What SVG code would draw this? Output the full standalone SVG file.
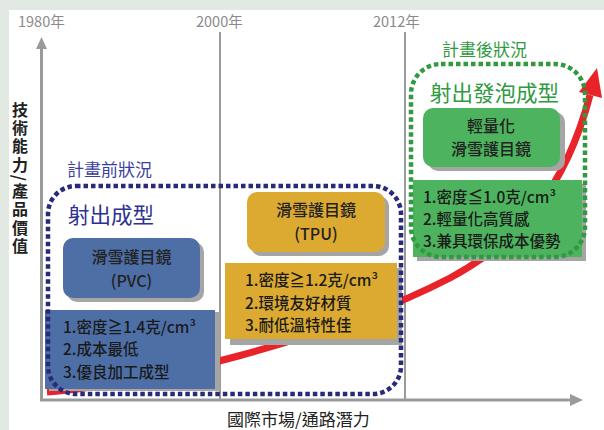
<svg xmlns="http://www.w3.org/2000/svg" width="604" height="430" viewBox="0 0 604 430">
<style>
.t{font-family:"Noto Sans CJK TC","Noto Sans",sans-serif}
.yr{font-size:14.5px;fill:#8a8a8a}
.box{font-size:16px;fill:#222;text-anchor:middle;font-weight:500}
.lst{font-size:15.5px;fill:#1a1a1a;font-weight:500}
.shadow{fill:#a5a5a5}
.axis{stroke:#9a9a9a;fill:none}
.dotB{fill:none;stroke:#2a2a7d;stroke-width:4.5;stroke-dasharray:4.5 3}
.dotG{fill:none;stroke:#2f9a3f;stroke-width:4.5;stroke-dasharray:4.5 3}
</style>
<rect width="604" height="430" fill="#e2e8e2"/>
<rect x="9" y="10" width="595" height="420" fill="#ffffff"/>
<g id="axes">
<line class="axis" x1="41.5" y1="46" x2="41.5" y2="400" stroke-width="3"/>
<polygon points="41.5,37 36,49 47,49" fill="#9a9a9a"/>
<line class="axis" x1="40" y1="400" x2="572" y2="400" stroke-width="3"/>
<polygon points="583,400 570,394 570,406" fill="#9a9a9a"/>
<line class="axis" x1="220" y1="32" x2="220" y2="400" stroke-width="2"/>
<line class="axis" x1="405" y1="32" x2="405" y2="400" stroke-width="2"/>
<text class="t yr" x="18" y="27">1980年</text>
<text class="t yr" x="196" y="27">2000年</text>
<text class="t yr" x="373" y="27">2012年</text>
<text id="y-label" class="t" x="20" y="102" font-size="16" font-weight="bold" fill="#222" letter-spacing="2.2" style="writing-mode:vertical-rl">技術能力/產品價值</text>
<text class="t" x="227" y="426" font-size="17" fill="#222">國際市場/通路潛力</text>
</g>
<g id="connectors">
<path d="M47,392 C140,386 330,340 450,278 C520,240 565,190 590,95" fill="none" stroke="#e8242a" stroke-width="7"/>
<polygon points="597,68 602,98 579,92" fill="#e8242a"/>
</g>
<g id="pvc-box">
<rect class="shadow" x="67" y="242" width="137" height="60" rx="10"/>
<rect x="63" y="238" width="137" height="60" rx="10" fill="#4d6fa6"/>
<text class="t box" x="131.5" y="263">滑雪護目鏡</text>
<text class="t box" x="131.5" y="287">(PVC)</text>
</g>
<g id="pvc-props">
<rect class="shadow" x="49" y="312" width="171" height="79"/>
<rect x="45" y="310" width="170" height="79" fill="#4d6fa6"/>
<text class="t lst" x="63" y="333">1.密度≧1.4克/cm³</text>
<text class="t lst" x="63" y="355">2.成本最低</text>
<text class="t lst" x="63" y="378">3.優良加工成型</text>
</g>
<g id="tpu-box">
<rect class="shadow" x="251" y="196" width="138" height="60" rx="10"/>
<rect x="247" y="192" width="138" height="60" rx="10" fill="#dcaa30"/>
<text class="t box" x="316" y="216">滑雪護目鏡</text>
<text class="t box" x="316" y="240">(TPU)</text>
</g>
<g id="tpu-props">
<rect class="shadow" x="230" y="268" width="172" height="77"/>
<rect x="225" y="263" width="172" height="76" fill="#dcaa30"/>
<text class="t lst" x="245" y="286">1.密度≧1.2克/cm³</text>
<text class="t lst" x="245" y="309">2.環境友好材質</text>
<text class="t lst" x="245" y="331">3.耐低溫特性佳</text>
</g>
<g id="light-box">
<rect class="shadow" x="428" y="112" width="137" height="59" rx="10"/>
<rect x="423" y="108" width="137" height="59" rx="10" fill="#4db35e"/>
<text class="t box" x="491" y="132" font-size="15.5">輕量化</text>
<text class="t box" x="491" y="155" font-size="15.5">滑雪護目鏡</text>
</g>
<g id="light-props">
<rect class="shadow" x="417" y="184" width="169" height="77"/>
<rect x="413" y="180" width="169" height="77" fill="#4db35e"/>
<text class="t lst" x="423" y="203">1.密度≦1.0克/cm³</text>
<text class="t lst" x="423" y="225">2.輕量化高質感</text>
<text class="t lst" x="423" y="247">3.兼具環保成本優勢</text>
</g>
<g id="before-group">
<rect class="dotB" x="48" y="186" width="353" height="208" rx="28"/>
<text class="t" x="67" y="176" font-size="17" fill="#3b3fa0">計畫前狀況</text>
<text class="t" x="68" y="223" font-size="21.5" fill="#2e3192">射出成型</text>
</g>
<g id="after-group">
<rect class="dotG" x="411" y="64" width="174" height="193" rx="30"/>
<text class="t" x="442" y="56" font-size="17" fill="#2f9a3f">計畫後狀況</text>
<text class="t" x="430" y="101" font-size="21.5" fill="#2f9a3f">射出發泡成型</text>
</g>
</svg>
